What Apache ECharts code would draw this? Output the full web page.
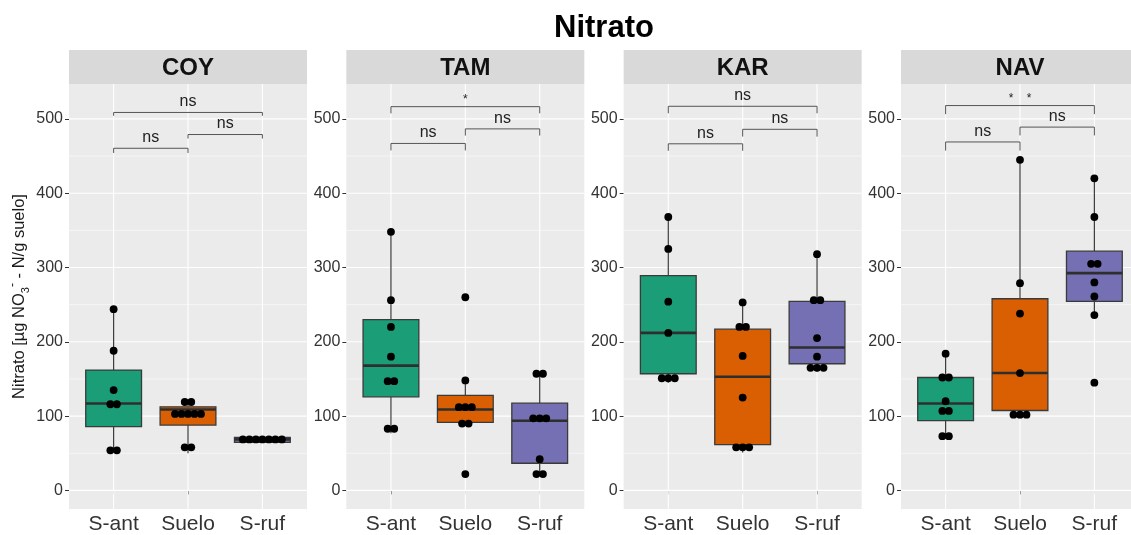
<!DOCTYPE html>
<html><head><meta charset="utf-8">
<script src="https://cdn.jsdelivr.net/npm/echarts@6/dist/echarts.min.js"></script>
<style>html,body{margin:0;padding:0;background:#fff;overflow:hidden}#c{width:1140px;height:535px}</style>
</head><body><div id="c"></div><script>
// ---------------- data ----------------
const chartTitle = 'Nitrato';
const sites = ['COY', 'TAM', 'KAR', 'NAV'];
const groups = ['S-ant', 'Suelo', 'S-ruf'];
const groupColors = ['#1B9E77', '#D95F02', '#7570B3'];
const yTicks = [0, 100, 200, 300, 400, 500];
const yMinorTicks = [50, 150, 250, 350, 450];
const yRange = [-25, 547];
const yAxisTitle = ['Nitrato [µg NO', '3', '-', ' - N/g suelo]'];

// box stats per group: [lower whisker, Q1, median, Q3, upper whisker]
const boxCOY = [[54, 86, 117, 162, 244], [50, 88, 109, 112.5, 119], [64.7, 64.7, 68.7, 71.4, 71.4]];
const boxTAM = [[77, 126, 168, 230, 348], [88, 91.5, 109, 128, 148], [21, 36.6, 93.7, 117.4, 157]];
const boxKAR = [[145, 157, 212, 289, 368], [51, 61.6, 153, 217, 253], [160, 170.5, 192.4, 254.5, 318]];
const boxNAV = [[70, 94, 117, 152, 184], [97, 107.6, 158, 258, 445], [236, 254.5, 292.4, 322, 420]];

// observed points per group
const ptsCOY = [[244, 188, 135, 116, 116, 54, 54], [119, 119, 103, 103, 103, 103, 103, 58, 58], [68.7, 68.7, 68.7, 68.7, 68.7, 68.7, 68.7]];
const ptsTAM = [[348, 256, 220, 180, 147, 147, 83, 83], [260, 148, 112, 112, 112, 90, 90, 22], [157, 157, 97, 97, 97, 42, 22, 22]];
const ptsKAR = [[368, 325, 254, 212, 151, 151, 151], [253, 220, 220, 181, 125, 58, 58, 58], [318, 256, 256, 205, 180, 165, 165, 165]];
const ptsNAV = [[184, 152, 152, 120, 107, 107, 73, 73], [445, 279, 238, 158, 102, 102, 102], [420, 368, 305, 305, 280, 261, 236, 145]];

// significance brackets: pairs of groups, bracket heights, tip lengths, labels
const bracketPairs = [[1, 2], [2, 3], [1, 3]];
const brkYCOY = [460.5, 479, 508.7], brkTipCOY = [6.3, 5.4, 4.5], brkLabCOY = ['ns', 'ns', 'ns'];
const brkYTAM = [467, 486.6, 516.5], brkTipTAM = [9.4, 9, 9], brkLabTAM = ['ns', 'ns', '*'];
const brkYKAR = [466.5, 486, 517], brkTipKAR = [9.4, 9.8, 9.4], brkLabKAR = ['ns', 'ns', 'ns'];
const brkYNAV = [469, 489, 518], brkTipNAV = [11.6, 11.2, 11.6], brkLabNAV = ['ns', 'ns', '**'];

const boxes = [boxCOY, boxTAM, boxKAR, boxNAV];
const points = [ptsCOY, ptsTAM, ptsKAR, ptsNAV];
const brkY = [brkYCOY, brkYTAM, brkYKAR, brkYNAV];
const brkTip = [brkTipCOY, brkTipTAM, brkTipKAR, brkTipNAV];
const brkLab = [brkLabCOY, brkLabTAM, brkLabKAR, brkLabNAV];

// ---------------- layout ----------------
const FONT = '"Liberation Sans", Arial, Helvetica, sans-serif';
const panelLeft0 = 69, panelStep = 277.33, panelW = 238, panelTop = 84, panelH = 427;
const stripTop = 50, stripH = 34;
const xMin = 0.4, xMax = 3.6;
const dotSpacingPx = 6.5;
const unitsPerPx = (xMax - xMin) / panelW;

const chart = echarts.init(document.getElementById('c'), null, { renderer: 'canvas' });

const grids = [], xAxes = [], yAxes = [], series = [], graphics = [];

sites.forEach((site, p) => {
  const left = panelLeft0 + p * panelStep;
  grids.push({ left: left, top: panelTop, width: panelW, height: panelH, show: true,
    backgroundColor: '#EBEBEB', borderWidth: 0, containLabel: false });
  xAxes.push({
    type: 'value', gridIndex: p, min: xMin, max: xMax,
    axisLine: { show: false },
    axisTick: { show: true, customValues: [1, 2, 3], length: 4, lineStyle: { color: '#333', width: 1 } },
    axisLabel: { show: true, customValues: [1, 2, 3], formatter: v => groups[Math.round(v) - 1] || '',
      fontSize: 21, color: '#333', margin: 5, fontFamily: FONT },
    splitLine: { show: false }
  });
  const ya = {
    type: 'value', gridIndex: p, min: yRange[0], max: yRange[1],
    axisLine: { show: false },
    axisTick: { show: true, customValues: yTicks, length: 4, lineStyle: { color: '#333', width: 1 } },
    axisLabel: { show: true, customValues: yTicks, fontSize: 16, color: '#333', margin: 6, fontFamily: FONT },
    splitLine: { show: false }
  };
  if (p === 0) {
    ya.name = '{n|' + yAxisTitle[0] + '}{sub|' + yAxisTitle[1] + '}{sup|' + yAxisTitle[2] + '}{n|' + yAxisTitle[3] + '}';
    ya.nameLocation = 'middle';
    ya.nameRotate = 90;
    ya.nameGap = 38;
    ya.nameTextStyle = {
      fontFamily: FONT, color: '#1a1a1a',
      rich: {
        n: { fontSize: 16.5, lineHeight: 24, verticalAlign: 'middle', fontFamily: FONT, color: '#1a1a1a' },
        sub: { fontSize: 11, lineHeight: 11, verticalAlign: 'bottom', fontFamily: FONT, color: '#1a1a1a' },
        sup: { fontSize: 12, lineHeight: 12, verticalAlign: 'top', fontFamily: FONT, color: '#1a1a1a' }
      }
    };
  }
  yAxes.push(ya);

  // gridlines (drawn under the data)
  const gridData = [];
  yTicks.forEach(v => gridData.push([0, v]));
  yMinorTicks.forEach(v => gridData.push([1, v]));
  groups.forEach((g, i) => gridData.push([2, i + 1]));
  series.push({
    type: 'custom', xAxisIndex: p, yAxisIndex: p, z: 1, silent: true,
    data: gridData,
    renderItem: (params, api) => {
      const kind = api.value(0), v = api.value(1);
      let a, b;
      if (kind === 2) { a = api.coord([v, yRange[0]]); b = api.coord([v, yRange[1]]); }
      else { a = api.coord([xMin, v]); b = api.coord([xMax, v]); }
      return { type: 'line', shape: { x1: a[0], y1: a[1], x2: b[0], y2: b[1] },
        style: { stroke: '#FFFFFF', lineWidth: kind === 1 ? 0.55 : 1.1 } };
    }
  });

  // boxes
  series.push({
    type: 'custom', xAxisIndex: p, yAxisIndex: p, z: 3, silent: true,
    data: boxes[p].map((b, i) => [i + 1].concat(b)),
    renderItem: (params, api) => {
      const x = api.value(0), lo = api.value(1), q1 = api.value(2), med = api.value(3), q3 = api.value(4), hi = api.value(5);
      const hw = 0.375;
      const tl = api.coord([x - hw, q3]), br = api.coord([x + hw, q1]);
      const pLo = api.coord([x, lo]), pQ1 = api.coord([x, q1]), pQ3 = api.coord([x, q3]), pHi = api.coord([x, hi]);
      const mL = api.coord([x - hw, med]), mR = api.coord([x + hw, med]);
      const stroke = '#3a3a3a';
      return { type: 'group', children: [
        { type: 'line', shape: { x1: pLo[0], y1: pLo[1], x2: pQ1[0], y2: pQ1[1] }, style: { stroke, lineWidth: 1.2 } },
        { type: 'line', shape: { x1: pQ3[0], y1: pQ3[1], x2: pHi[0], y2: pHi[1] }, style: { stroke, lineWidth: 1.2 } },
        { type: 'rect', shape: { x: tl[0], y: tl[1], width: br[0] - tl[0], height: br[1] - tl[1] },
          style: { fill: groupColors[x - 1], stroke, lineWidth: 1.3 } },
        { type: 'line', shape: { x1: mL[0], y1: mL[1], x2: mR[0], y2: mR[1] }, style: { stroke: '#2e2e2e', lineWidth: 2.6 } }
      ] };
    }
  });

  // dots (stacked horizontally when values coincide)
  const dotData = [];
  points[p].forEach((vals, gi) => {
    const counts = {};
    vals.forEach(v => { counts[v] = (counts[v] || 0) + 1; });
    const seen = {};
    vals.forEach(v => {
      const n = counts[v], k = seen[v] || 0;
      seen[v] = k + 1;
      const off = (k - (n - 1) / 2) * dotSpacingPx * unitsPerPx;
      dotData.push([gi + 1 + off, v]);
    });
  });
  series.push({
    type: 'scatter', xAxisIndex: p, yAxisIndex: p, z: 4, silent: true,
    symbol: 'circle', symbolSize: 7.8, itemStyle: { color: '#000', opacity: 1 },
    data: dotData
  });

  // significance brackets
  const bData = bracketPairs.map((pr, i) => [pr[0], pr[1], brkY[p][i], brkTip[p][i], i]);
  series.push({
    type: 'custom', xAxisIndex: p, yAxisIndex: p, z: 5, silent: true,
    data: bData,
    renderItem: (params, api) => {
      const x1 = api.value(0), x2 = api.value(1), y = api.value(2), tip = api.value(3), idx = api.value(4);
      const a = api.coord([x1, y - tip]), b = api.coord([x1, y]), c = api.coord([x2, y]), d = api.coord([x2, y - tip]);
      const lab = brkLab[p][idx];
      const isStar = lab.indexOf('*') >= 0;
      const text = isStar ? lab.split('').join('    ') : lab;
      const mid = api.coord([(x1 + x2) / 2, y]);
      return { type: 'group', children: [
        { type: 'polyline', shape: { points: [a, b, c, d] }, style: { stroke: '#555', lineWidth: 1, fill: null } },
        { type: 'text', style: { text: text, x: mid[0], y: mid[1] - (isStar ? 6.5 : 10.5),
          align: 'center', verticalAlign: 'middle', fontSize: isStar ? 12 : 16, fontFamily: FONT, fill: '#222' } }
      ] };
    }
  });

  // strip
  graphics.push({ type: 'rect', left: left, top: stripTop, shape: { width: panelW, height: stripH },
    style: { fill: '#D9D9D9' }, silent: true, z: 0 });
  graphics.push({ type: 'text', x: left + panelW / 2, y: stripTop + stripH / 2 + 1,
    style: { text: site, align: 'center', verticalAlign: 'middle', fontSize: 24, fontWeight: 'bold',
      fontFamily: FONT, fill: '#111' }, silent: true, z: 1 });
});

// title centred over the panel area
graphics.push({ type: 'text', x: panelLeft0 + (3 * panelStep + panelW) / 2, y: 28,
  style: { text: chartTitle, align: 'center', verticalAlign: 'middle', fontSize: 31, fontWeight: 'bold',
    fontFamily: FONT, fill: '#000' }, silent: true });

chart.setOption({
  animation: false,
  backgroundColor: '#FFFFFF',
  grid: grids, xAxis: xAxes, yAxis: yAxes, series: series,
  graphic: { elements: graphics }
});
</script></body></html>
